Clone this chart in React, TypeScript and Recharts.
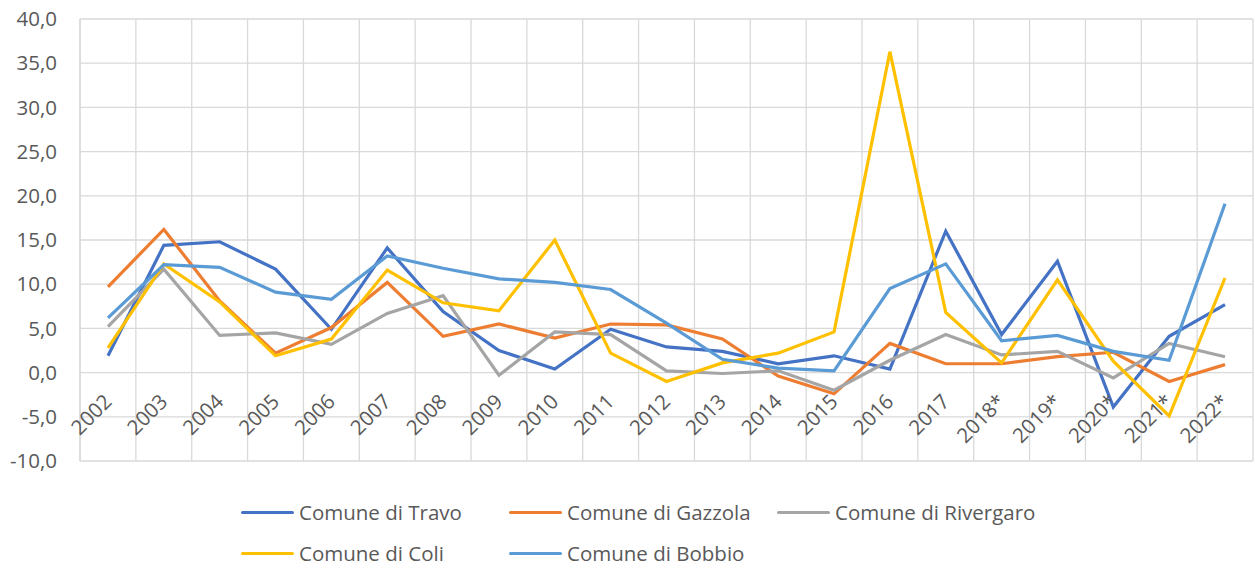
import { LineChart, Line, XAxis, YAxis, CartesianGrid, Legend } from 'recharts';

const years = [
  '2002', '2003', '2004', '2005', '2006', '2007', '2008', '2009', '2010', '2011', '2012',
  '2013', '2014', '2015', '2016', '2017', '2018*', '2019*', '2020*', '2021*', '2022*',
];

const travo = [1.9, 14.4, 14.8, 11.7, 4.9, 14.1, 6.9, 2.5, 0.4, 4.9, 2.9, 2.4, 1.0, 1.9, 0.4, 16.0, 4.3, 12.6, -3.9, 4.1, 7.7];
const gazzola = [9.7, 16.2, 8.1, 2.2, 5.1, 10.2, 4.1, 5.5, 3.9, 5.5, 5.4, 3.8, -0.4, -2.4, 3.3, 1.0, 1.0, 1.8, 2.3, -1.0, 0.9];
const rivergaro = [5.2, 11.7, 4.2, 4.5, 3.2, 6.7, 8.7, -0.3, 4.6, 4.3, 0.2, -0.1, 0.2, -2.0, 1.4, 4.3, 2.0, 2.4, -0.6, 3.3, 1.8];
const coli = [2.8, 12.3, 8.0, 1.9, 3.8, 11.6, 7.9, 7.0, 15.0, 2.2, -1.0, 1.1, 2.2, 4.6, 36.3, 6.8, 1.1, 10.5, 1.3, -4.9, 10.7];
const bobbio = [6.2, 12.2, 11.9, 9.1, 8.3, 13.2, 11.8, 10.6, 10.2, 9.4, 5.6, 1.5, 0.5, 0.2, 9.5, 12.3, 3.6, 4.2, 2.4, 1.4, 19.1];

const yTicks = [-10, -5, 0, 5, 10, 15, 20, 25, 30, 35, 40];

const SERIES = [
  { key: 'travo', name: 'Comune di Travo', color: '#4472C4' },
  { key: 'gazzola', name: 'Comune di Gazzola', color: '#ED7D31' },
  { key: 'rivergaro', name: 'Comune di Rivergaro', color: '#A5A5A5' },
  { key: 'coli', name: 'Comune di Coli', color: '#FFC000' },
  { key: 'bobbio', name: 'Comune di Bobbio', color: '#5B9BD5' },
];

const data = years.map((year, i) => ({
  year,
  travo: travo[i],
  gazzola: gazzola[i],
  rivergaro: rivergaro[i],
  coli: coli[i],
  bobbio: bobbio[i],
}));

const FONT = '"Open Sans", sans-serif';
const TEXT = '#595959';
const GRID = '#d9d9d9';

// category labels hang just under the zero line, like Excel does
function YearTick(props: any) {
  const { x, y, payload } = props;
  return (
    <text
      transform={`translate(${x + 5},${y - 60}) rotate(-45)`}
      textAnchor="end"
      fill={TEXT}
      fontSize={20.5}
      fontFamily={FONT}
    >
      {payload.value}
    </text>
  );
}

function LegendBox() {
  return (
    <div
      style={{
        display: 'grid',
        gridTemplateColumns: 'repeat(3, 268px)',
        gridAutoRows: '41px',
        fontFamily: FONT,
        fontSize: 20.5,
        lineHeight: 1,
        color: TEXT,
        whiteSpace: 'nowrap',
      }}
    >
      {SERIES.map((s) => (
        <div key={s.key} style={{ display: 'flex', alignItems: 'center' }}>
          <span style={{ display: 'inline-block', width: 53, height: 3, background: s.color, borderRadius: 2, marginRight: 5 }} />
          <span>{s.name}</span>
        </div>
      ))}
    </div>
  );
}

export default function App() {
  return (
    <div style={{ position: 'absolute', left: 0, top: 0, background: '#fff' }}>
      <LineChart width={1255} height={568} data={data} margin={{ top: 19, right: 2, left: 0, bottom: 77 }}>
        <CartesianGrid
          stroke={GRID}
          strokeWidth={1.3}
          verticalCoordinatesGenerator={({ offset }: any) =>
            Array.from({ length: years.length + 1 }, (_, i) => offset.left + (i * offset.width) / years.length)
          }
        />
        <XAxis
          dataKey="year"
          height={30}
          axisLine={false}
          tickLine={false}
          tickSize={0}
          tickMargin={2}
          interval={0}
          padding={{ left: 28, right: 28 }}
          tick={<YearTick />}
        />
        <YAxis
          width={80}
          domain={[-10, 40]}
          ticks={yTicks}
          axisLine={{ stroke: GRID, strokeWidth: 1.3 }}
          tickLine={false}
          tickSize={0}
          tickMargin={23}
          tick={{ fill: TEXT, fontSize: 20.5, fontFamily: FONT }}
          tickFormatter={(v: number) => v.toFixed(1).replace('.', ',')}
        />
        {SERIES.map((s) => (
          <Line
            key={s.key}
            type="linear"
            dataKey={s.key}
            name={s.name}
            stroke={s.color}
            strokeWidth={3.2}
            dot={false}
            isAnimationActive={false}
          />
        ))}
        <Legend
          layout="horizontal"
          verticalAlign="middle"
          align="center"
          wrapperStyle={{ left: 241, top: 491.5, width: 820, height: 76 }}
          content={() => <LegendBox />}
        />
      </LineChart>
    </div>
  );
}
